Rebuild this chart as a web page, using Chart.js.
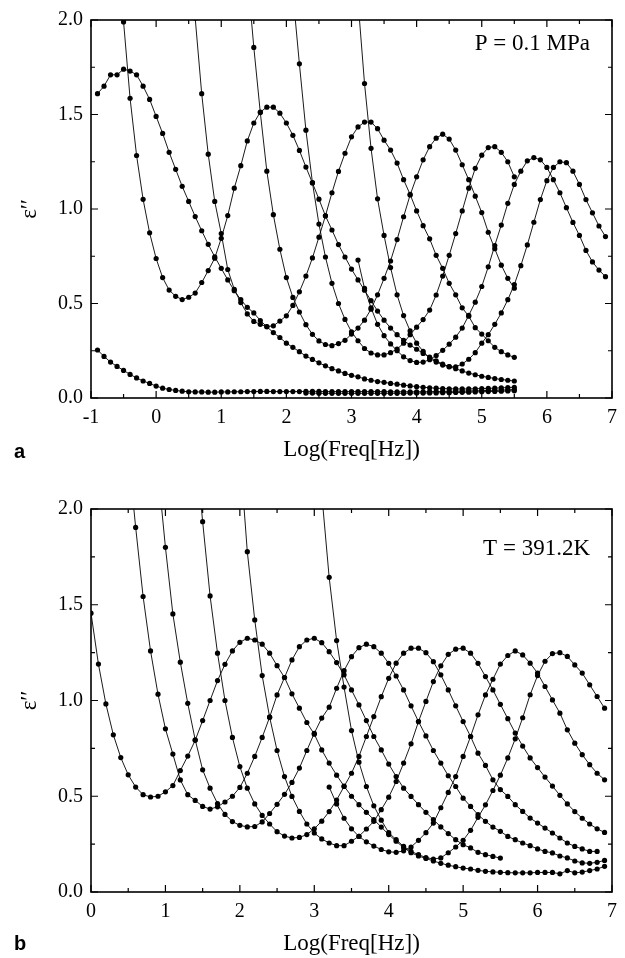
<!DOCTYPE html>
<html><head><meta charset="utf-8">
<script src="https://cdn.jsdelivr.net/npm/chart.js@4.4.1/dist/chart.umd.min.js"></script>
<style>html,body{margin:0;padding:0;background:#fff;}canvas{display:block;}</style>
</head><body>
<canvas id="ca" width="625" height="480"></canvas>
<canvas id="cb" width="625" height="478"></canvas>
<script>
// ---------- frequency grids (log10 f) ----------
const logFreqTop = [-0.9,-0.8,-0.7,-0.6,-0.5,-0.4,-0.3,-0.2,-0.1,
  0.0,0.1,0.2,0.3,0.4,0.5,0.6,0.7,0.8,0.9,1.0,1.1,1.2,1.3,1.4,1.5,1.6,1.7,1.8,1.9,
  2.0,2.1,2.2,2.3,2.4,2.5,2.6,2.7,2.8,2.9,3.0,3.1,3.2,3.3,3.4,3.5,3.6,3.7,3.8,3.9,
  4.0,4.1,4.2,4.3,4.4,4.5,4.6,4.7,4.8,4.9,5.0,5.1,5.2,5.3,5.4,5.5,5.6,5.7,5.8,5.9,
  6.0,6.1,6.2,6.3,6.4,6.5,6.6,6.7,6.8,6.9];
const logFreqBottom = [0.0,0.1,0.2,0.3,0.4,0.5,0.6,0.7,0.8,0.9,1.0,1.1,1.2,1.3,1.4,1.5,1.6,1.7,1.8,1.9,
  2.0,2.1,2.2,2.3,2.4,2.5,2.6,2.7,2.8,2.9,3.0,3.1,3.2,3.3,3.4,3.5,3.6,3.7,3.8,3.9,
  4.0,4.1,4.2,4.3,4.4,4.5,4.6,4.7,4.8,4.9,5.0,5.1,5.2,5.3,5.4,5.5,5.6,5.7,5.8,5.9,
  6.0,6.1,6.2,6.3,6.4,6.5,6.6,6.7,6.8,6.9];

// ---------- panel a : P = 0.1 MPa ----------
const topA_start = -0.9;
const topA = [0.254,0.22,0.19,0.167,0.146,0.125,0.106,0.09,0.077,
  0.063,0.052,0.045,0.04,0.036,0.033,0.032,0.032,0.031,0.031,
  0.032,0.032,0.033,0.033,0.034,0.034,0.035,0.035,0.034,0.034,
  0.034,0.034,0.034,0.035,0.035,0.035,0.034,0.034,0.034,0.034,
  0.034,0.034,0.034,0.034,0.034,0.034,0.033,0.033,0.033,0.033,
  0.033,0.033,0.034,0.034,0.035,0.035,0.036,0.036,0.037,0.038,
  0.039,0.04,0.041,0.042,0.043,0.045];
const topA2_start = 2.3;
const topA2 = [0.026,0.026,0.025,0.025,0.025,0.025,0.025,
  0.025,0.025,0.025,0.025,0.025,0.025,0.025,0.025,0.025,0.026,
  0.026,0.026,0.027,0.027,0.028,0.028,0.029,0.03,0.031,0.032,
  0.033,0.034,0.035,0.036,0.037,0.038];
const topT1_start = -0.9;
const topT1 = [1.61,1.65,1.71,1.71,1.74,1.73,1.71,1.65,1.58,
  1.49,1.40,1.30,1.21,1.12,1.04,0.96,0.885,0.813,0.747,
  0.686,0.625,0.568,0.52,0.48,0.45,0.41,0.377,0.346,0.32,
  0.29,0.268,0.245,0.222,0.204,0.186,0.17,0.155,0.143,0.13,
  0.12,0.112,0.101,0.094,0.087,0.083,0.077,0.073,0.068,0.064,
  0.06,0.057,0.054,0.052,0.05,0.049,0.048,0.048,0.048,0.049,
  0.05,0.051,0.052,0.054,0.055,0.057];
const topC_start = -0.5;
const topC = [1.99,1.586,1.283,1.051,0.874,
  0.738,0.637,0.571,0.538,0.521,0.533,0.555,0.611,0.674,0.74,
  0.845,0.965,1.11,1.229,1.36,1.455,1.513,1.539,1.539,1.507,
  1.455,1.39,1.31,1.222,1.138,1.052,0.964,0.889,0.812,0.746,
  0.682,0.625,0.57,0.515,0.46,0.412,0.37,0.335,0.305,0.28,
  0.258,0.236,0.216,0.197,0.18,0.166,0.155,0.143,0.132,0.123,
  0.115,0.109,0.103,0.098,0.094,0.09];
const topK2_start = 0.6;
const topK2 = [2.01,1.61,1.29,1.04,
  0.87,0.68,0.575,0.505,0.445,0.405,0.39,0.378,0.382,0.407,
  0.435,0.49,0.562,0.645,0.741,0.851,0.964,1.086,1.199,1.295,
  1.382,1.434,1.46,1.46,1.425,1.364,1.312,1.243,1.155,1.077,
  0.99,0.912,0.842,0.755,0.686,0.607,0.546,0.477,0.433,0.372,
  0.338,0.303,0.268,0.245,0.228,0.215];
const topK3_start = 1.4;
const topK3 = [2.25,1.855,1.51,1.20,0.97,0.787,
  0.637,0.532,0.455,0.388,0.337,0.302,0.283,0.277,0.288,0.305,
  0.338,0.37,0.412,0.47,0.546,0.633,0.725,0.838,0.959,1.074,
  1.17,1.26,1.33,1.375,1.396,1.37,1.312,1.234,1.155,1.068,
  0.981,0.877,0.79,0.703,0.633,0.581];
const topK4_start = 2.1;
const topK4 = [2.14,1.768,1.417,1.14,0.92,0.746,0.607,0.50,0.416,
  0.35,0.303,0.262,0.238,0.228,0.228,0.24,0.259,0.29,0.335,
  0.375,0.415,0.465,0.545,0.645,0.755,0.87,0.99,1.11,1.215,
  1.285,1.325,1.33,1.30,1.25,1.17];
const topS_start = 3.1;
const topS = [0.73,0.58,0.477,0.39,0.33,0.286,0.25,0.218,0.198,
  0.188,0.19,0.203,0.225,0.252,0.285,0.322,0.37,0.437,0.507,
  0.59,0.694,0.807,0.915,1.03,1.13,1.2,1.255,1.272,1.26,
  1.22,1.155,1.086,1.007,0.929,0.86,0.781,0.72,0.677,0.642];
const topK5_start = 3.1;
const topK5 = [2.1,1.664,1.321,1.054,0.86,0.69,0.546,0.436,0.355,
  0.29,0.247,0.21,0.19,0.174,0.166,0.165,0.18,0.205,0.24,
  0.29,0.335,0.39,0.45,0.52,0.60,0.70,0.81,0.93,1.05,
  1.15,1.22,1.25,1.245,1.20,1.13,1.05,0.98,0.91,0.854];

// ---------- panel b : T = 391.2 K ----------
const botQ1_start = 0.0;
const botQ1 = [1.456,1.19,0.982,0.821,0.702,0.612,0.548,0.508,0.496,0.50,
  0.523,0.556,0.634,0.71,0.792,0.895,1.0,1.104,1.189,1.259,
  1.304,1.325,1.316,1.294,1.247,1.182,1.12,1.035,0.96,0.885,
  0.824,0.742,0.673,0.61,0.553,0.50,0.456,0.416,0.378,0.339,
  0.30,0.265,0.232,0.205,0.188,0.175,0.162,0.15,0.14,0.132,
  0.125,0.12,0.113,0.108,0.105,0.103,0.101,0.10,0.10,0.10,
  0.102,0.102,0.102,0.095,0.112,0.10,0.104,0.112,0.12,0.134];
const botQ2_start = 0.5;
const botQ2 = [2.3,1.904,1.543,1.259,1.033,
  0.852,0.72,0.585,0.508,0.478,0.447,0.433,0.445,0.47,0.50,
  0.546,0.62,0.708,0.807,0.913,1.029,1.12,1.212,1.281,1.316,
  1.325,1.302,1.255,1.198,1.134,1.055,0.977,0.895,0.812,0.742,
  0.668,0.603,0.542,0.499,0.456,0.416,0.378,0.34,0.305,0.273,
  0.247,0.23,0.207,0.195,0.186,0.177];
const botQ3_start = 0.9;
const botQ3 = [2.2,
  1.80,1.452,1.20,0.985,0.795,0.638,0.542,0.462,0.405,0.368,
  0.348,0.34,0.342,0.366,0.41,0.458,0.51,0.572,0.647,0.739,
  0.829,0.908,0.965,1.064,1.156,1.229,1.276,1.294,1.281,1.247,
  1.194,1.128,1.055,0.972,0.89,0.815,0.739,0.673,0.607,0.551,
  0.49,0.447,0.404,0.369,0.339,0.317,0.29,0.273,0.256,0.242,
  0.225,0.212,0.204,0.188,0.178,0.162,0.152,0.15,0.155,0.165];
const botQ4_start = 1.4;
const botQ4 = [2.35,1.934,1.546,1.247,1.0,0.807,
  0.655,0.542,0.46,0.40,0.355,0.315,0.292,0.282,0.285,0.30,
  0.33,0.37,0.42,0.48,0.551,0.62,0.708,0.812,0.916,1.02,
  1.116,1.195,1.247,1.273,1.273,1.25,1.203,1.134,1.055,0.972,
  0.89,0.812,0.725,0.661,0.586,0.535,0.499,0.456,0.421,0.386,
  0.36,0.334,0.308,0.282,0.256,0.238,0.225,0.212,0.212];
const botQ5_start = 2.0;
const botQ5 = [2.3,1.777,1.421,1.13,0.913,0.739,0.603,0.499,0.421,0.355,
  0.308,0.277,0.256,0.242,0.242,0.265,0.291,0.329,0.369,0.43,
  0.495,0.577,0.673,0.774,0.89,0.995,1.099,1.181,1.241,1.268,
  1.273,1.247,1.194,1.125,1.055,0.98,0.905,0.83,0.762,0.70,
  0.65,0.60,0.553,0.505,0.46,0.42,0.385,0.355,0.33,0.311];
const botQ6_start = 3.2;
const botQ6 = [0.548,0.46,0.385,0.33,0.29,0.262,0.24,0.222,
  0.21,0.207,0.215,0.235,0.27,0.31,0.36,0.44,0.52,0.603,
  0.708,0.812,0.925,1.029,1.111,1.19,1.235,1.259,1.238,1.195,
  1.143,1.073,1.003,0.934,0.847,0.777,0.717,0.665,0.62,0.586];
const botQ7_start = 3.1;
const botQ7 = [2.08,1.643,1.313,1.07,0.843,0.678,0.551,0.45,0.375,
  0.31,0.273,0.238,0.212,0.195,0.18,0.172,0.178,0.205,0.235,
  0.27,0.322,0.39,0.455,0.53,0.61,0.70,0.80,0.91,1.03,
  1.13,1.205,1.245,1.25,1.23,1.186,1.143,1.082,1.021,0.96];

// ---------- ticks ----------
const xTicksTop = [-1,0,1,2,3,4,5,6,7];
const xMinorTop = [-0.5,0.5,1.5,2.5,3.5,4.5,5.5,6.5];
const xTicksBottom = [0,1,2,3,4,5,6,7];
const xMinorBottom = [0.5,1.5,2.5,3.5,4.5,5.5,6.5];
const yTicks = [0,0.5,1.0,1.5,2.0];
const yMinor = [0.25,0.75,1.25,1.75];

function pts(grid, start, values) {
  const i0 = grid.findIndex(g => Math.abs(g - start) < 1e-6);
  return values.map((v, i) => ({x: grid[i0 + i], y: v}));
}
function ds(data) {
  return {data, borderColor:'#000', backgroundColor:'#000', borderWidth:0.9,
    pointRadius:2.6, pointHoverRadius:2.6, pointBorderWidth:0, pointBackgroundColor:'#000',
    tension:0, fill:false};
}

const SERIF = '"Liberation Serif", "Times New Roman", serif';

const framePlugin = {
  id: 'frame',
  afterDatasetsDraw(chart, args, o) {
    const {ctx, chartArea: a} = chart;
    const x = chart.scales.x, y = chart.scales.y;
    ctx.save();
    ctx.strokeStyle = '#000';
    ctx.lineWidth = 1.2;
    const doX = (vals, len) => vals.forEach(v => {
      const p = x.getPixelForValue(v);
      ctx.beginPath(); ctx.moveTo(p, a.bottom); ctx.lineTo(p, a.bottom - len);
      ctx.moveTo(p, a.top); ctx.lineTo(p, a.top + len); ctx.stroke();
    });
    const doY = (vals, len) => vals.forEach(v => {
      const p = y.getPixelForValue(v);
      ctx.beginPath(); ctx.moveTo(a.left, p); ctx.lineTo(a.left + len, p);
      ctx.moveTo(a.right, p); ctx.lineTo(a.right - len, p); ctx.stroke();
    });
    doX(o.xMajor, 7); doX(o.xMinor, 4); doY(yTicks, 7); doY(yMinor, 4);
    ctx.lineWidth = 1.6;
    ctx.strokeRect(a.left, a.top, a.right - a.left, a.bottom - a.top);
    ctx.fillStyle = '#000';
    ctx.font = '23px ' + SERIF;
    ctx.textAlign = 'right'; ctx.textBaseline = 'alphabetic';
    ctx.fillText(o.note, o.noteX, o.noteY);
    ctx.font = 'bold 20px "Liberation Sans", Arial, sans-serif';
    ctx.textAlign = 'left';
    ctx.fillText(o.letter, 14, o.letterY);
    ctx.restore();
  }
};

function makeChart(id, datasets, cfg) {
  return new Chart(document.getElementById(id), {
    type: 'line',
    data: {datasets},
    plugins: [framePlugin],
    options: {
      responsive: false, animation: false, devicePixelRatio: 1,
      layout: {padding: {left: 0, right: 12, top: cfg.padTop, bottom: 0}},
      plugins: {legend: {display: false}, tooltip: {enabled: false},
        frame: {xMajor: cfg.xTicks, xMinor: cfg.xMinor, note: cfg.note, noteX: 590, noteY: cfg.noteY,
          letter: cfg.letter, letterY: cfg.letterY}},
      scales: {
        x: {type: 'linear', min: cfg.xMin, max: 7,
          grid: {display: false, drawTicks: false}, border: {display: false},
          afterBuildTicks: s => { s.ticks = cfg.xTicks.map(v => ({value: v})); },
          afterFit: s => { s.height = cfg.xHeight; },
          ticks: {padding: 8, color: '#000', font: {family: SERIF, size: 20}, maxRotation: 0,
            callback: v => String(v)},
          title: {display: true, text: 'Log(Freq[Hz])', color: '#000',
            font: {family: SERIF, size: 23}, padding: {top: 0, bottom: cfg.titlePad}}
        },
        y: {type: 'linear', min: 0, max: 2,
          grid: {display: false, drawTicks: false}, border: {display: false},
          afterBuildTicks: s => { s.ticks = yTicks.map(v => ({value: v})); },
          afterFit: s => { s.width = 91; },
          ticks: {padding: 8, color: '#000', font: {family: SERIF, size: 20},
            callback: v => Number(v).toFixed(1)},
          title: {display: true, text: 'ε′′', color: '#000',
            font: {family: SERIF, size: 23}, padding: {top: 16, bottom: 0}}
        }
      }
    }
  });
}

makeChart('ca', [
  ds(pts(logFreqTop, topA_start, topA)),
  ds(pts(logFreqTop, topA2_start, topA2)),
  ds(pts(logFreqTop, topT1_start, topT1)),
  ds(pts(logFreqTop, topC_start, topC)),
  ds(pts(logFreqTop, topK2_start, topK2)),
  ds(pts(logFreqTop, topK3_start, topK3)),
  ds(pts(logFreqTop, topK4_start, topK4)),
  ds(pts(logFreqTop, topS_start, topS)),
  ds(pts(logFreqTop, topK5_start, topK5))
], {padTop: 15, xHeight: 82, titlePad: 16, xMin: -1, xTicks: xTicksTop, xMinor: xMinorTop,
    note: 'P = 0.1 MPa', noteY: 50, letter: 'a', letterY: 458});

makeChart('cb', [
  ds(pts(logFreqBottom, botQ1_start, botQ1)),
  ds(pts(logFreqBottom, botQ2_start, botQ2)),
  ds(pts(logFreqBottom, botQ3_start, botQ3)),
  ds(pts(logFreqBottom, botQ4_start, botQ4)),
  ds(pts(logFreqBottom, botQ5_start, botQ5)),
  ds(pts(logFreqBottom, botQ6_start, botQ6)),
  ds(pts(logFreqBottom, botQ7_start, botQ7))
], {padTop: 29, xHeight: 66, titlePad: 0, xMin: 0, xTicks: xTicksBottom, xMinor: xMinorBottom,
    note: 'T = 391.2K', noteY: 75, letter: 'b', letterY: 470});
</script>
</body></html>
